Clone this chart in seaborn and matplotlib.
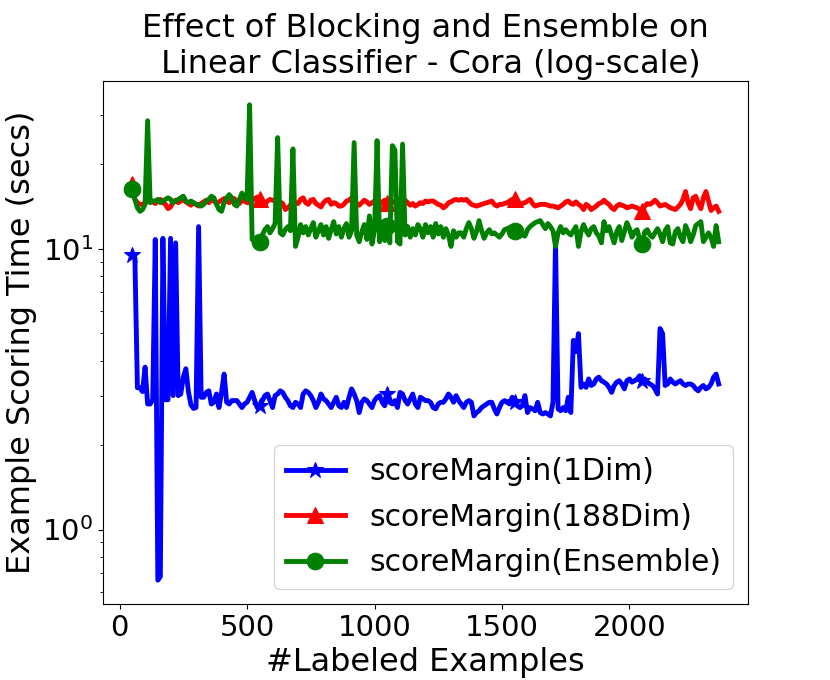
import matplotlib
matplotlib.use("Agg")
import matplotlib.pyplot as plt
import seaborn as sns
import numpy as np

# x values: number of labeled examples
labeled_examples = list(range(50, 2360, 10))

score_1dim = [
    9.5, 9.3, 3.2, 3.2, 3.1, 3.79, 2.8, 2.8, 2.9, 10.8,
    0.66, 0.68, 10.9, 2.9, 2.9, 10.9, 3.0, 10.5, 3.0, 3.04,
    3.49, 3.74, 3.1, 2.78, 2.7, 2.72, 12.0, 2.96, 2.96, 3.08,
    3.12, 2.8, 2.84, 3.04, 2.72, 3.08, 3.58, 2.84, 2.8, 2.88,
    2.88, 2.88, 2.8, 2.72, 2.8, 2.84, 2.96, 3.08, 2.88, 2.72,
    2.76, 2.88, 3.0, 3.04, 2.88, 2.72, 3.0, 3.04, 3.12, 3.08,
    2.96, 2.88, 2.76, 2.72, 2.84, 2.8, 2.72, 3.04, 3.12, 3.08,
    3.0, 2.88, 2.72, 2.84, 3.04, 2.92, 2.88, 2.8, 2.72, 2.84,
    2.96, 2.76, 2.72, 2.84, 2.72, 2.96, 3.17, 3.04, 2.88, 2.61,
    2.84, 2.92, 2.88, 2.8, 2.72, 2.88, 2.96, 3.0, 2.84, 2.76,
    3.04, 2.84, 2.8, 2.88, 2.72, 3.08, 3.04, 2.88, 2.8, 2.92,
    3.04, 2.8, 2.72, 2.96, 2.92, 2.88, 2.88, 2.84, 2.72, 2.69,
    2.8, 2.84, 2.84, 2.92, 3.04, 2.96, 2.84, 3.0, 2.88, 2.8,
    2.72, 2.84, 2.88, 2.84, 2.54, 2.61, 2.65, 2.72, 2.76, 2.8,
    2.84, 2.84, 2.69, 2.58, 2.72, 2.84, 2.88, 2.84, 2.8, 2.96,
    2.84, 2.76, 2.72, 2.76, 3.0, 2.61, 2.72, 2.69, 2.65, 2.84,
    2.61, 2.58, 2.61, 2.58, 2.54, 2.84, 10.6, 2.69, 2.65, 2.72,
    2.65, 2.96, 2.61, 4.72, 4.3, 4.99, 3.21, 3.3, 3.21, 3.44,
    3.26, 3.3, 3.44, 3.49, 3.39, 3.35, 3.3, 3.21, 3.08, 3.26,
    3.35, 3.39, 3.3, 3.17, 3.39, 3.44, 3.35, 3.39, 3.44, 3.53,
    3.39, 3.44, 3.35, 3.3, 3.26, 3.17, 3.04, 5.2, 4.99, 3.26,
    3.3, 3.44, 3.35, 3.3, 3.35, 3.39, 3.3, 3.26, 3.3, 3.3,
    3.26, 3.17, 3.12, 3.21, 3.26, 3.17, 3.21, 3.3, 3.49, 3.58,
    3.3,
]

score_188dim = [
    17.0, 15.0, 14.6, 14.4, 14.4, 14.6, 14.8, 14.9, 14.7, 14.5,
    14.8, 15.0, 14.6, 14.4, 13.9, 14.1, 14.7, 14.9, 14.6, 14.8,
    15.0, 14.7, 14.5, 14.3, 14.6, 14.4, 14.2, 14.5, 14.7, 14.9,
    14.6, 15.0, 14.8, 14.6, 14.7, 14.9, 15.1, 14.8, 14.6, 14.9,
    15.1, 14.7, 14.5, 14.9, 14.8, 14.6, 14.6, 14.9, 15.1, 15.3,
    15.0, 14.6, 14.4, 14.8, 15.0, 14.9, 14.8, 14.6, 14.7, 14.5,
    13.8, 14.0, 14.3, 14.7, 14.6, 14.5, 15.0, 15.2, 14.6, 14.4,
    14.9, 15.0, 14.5, 14.3, 14.1, 14.6, 14.9, 15.0, 14.4, 14.6,
    14.5, 14.2, 14.2, 14.4, 14.8, 14.9, 15.2, 15.0, 14.5, 14.3,
    14.6, 14.9, 14.7, 14.4, 14.6, 14.8, 14.5, 14.4, 14.7, 14.9,
    14.6, 14.3, 14.6, 14.8, 14.5, 14.4, 14.7, 14.9, 14.6, 14.3,
    14.5, 14.2, 14.4, 14.6, 14.5, 14.8, 14.7, 14.8, 14.8, 14.6,
    14.4, 14.3, 14.0, 14.2, 14.6, 14.7, 14.9, 15.0, 14.9, 15.0,
    14.9, 15.0, 14.7, 14.4, 14.3, 14.2, 14.3, 14.4, 14.5, 14.6,
    14.7, 14.8, 14.4, 14.2, 14.4, 14.4, 14.5, 14.6, 14.8, 15.0,
    15.1, 14.6, 14.4, 14.5, 14.6, 14.8, 15.0, 14.5, 14.2, 14.3,
    14.4, 14.4, 14.4, 14.3, 14.2, 14.2, 14.1, 14.0, 14.2, 14.4,
    14.7, 14.8, 14.5, 14.4, 14.7, 14.4, 14.2, 13.8, 14.4, 14.2,
    13.8, 14.0, 14.2, 14.5, 14.6, 14.9, 14.6, 14.4, 14.0, 13.8,
    14.2, 14.4, 14.3, 14.2, 14.0, 14.1, 14.2, 14.1, 14.0, 13.8,
    13.6, 14.2, 14.5, 14.4, 14.6, 14.9, 14.6, 14.2, 14.3, 14.4,
    14.2, 14.0, 13.9, 13.8, 14.1, 14.4, 15.0, 16.0, 14.6, 13.9,
    15.2, 15.4, 14.5, 13.9, 15.2, 16.0, 14.8, 13.7, 14.0, 14.2,
    13.6,
]

score_ensemble = [
    16.3, 15.0, 14.0, 13.6, 13.8, 14.4, 28.6, 14.6, 14.8, 14.8,
    15.0, 14.6, 14.8, 15.0, 15.2, 15.0, 14.6, 14.8, 15.0, 15.2,
    15.4, 14.8, 14.6, 14.8, 14.6, 14.4, 14.4, 14.2, 14.4, 14.8,
    15.0, 15.4, 15.2, 14.4, 13.8, 13.6, 14.6, 15.2, 15.6, 15.2,
    14.4, 14.2, 15.0, 15.8, 15.2, 15.0, 32.6, 10.8, 10.6, 10.5,
    10.6, 11.2, 11.7, 12.0, 11.4, 11.8, 12.3, 24.9, 11.4, 11.2,
    11.7, 12.0, 11.6, 22.7, 10.2, 11.0, 12.2, 11.4, 12.0, 11.2,
    11.8, 12.4, 11.0, 11.6, 12.2, 11.2, 12.0, 10.9, 11.7, 12.5,
    11.3, 12.0, 11.0, 11.8, 12.3, 11.0, 11.6, 23.9, 11.2, 10.6,
    11.5, 12.2, 10.8, 13.1, 10.4, 11.6, 24.3, 10.6, 11.8, 10.7,
    12.1, 10.5, 23.3, 22.5, 10.6, 10.4, 23.6, 11.2, 12.0, 11.0,
    11.8, 11.2, 12.2, 11.8, 11.0, 12.2, 11.4, 12.0, 11.0, 12.3,
    11.3, 12.0, 11.0, 11.8, 11.2, 10.2, 11.6, 11.0, 11.4, 11.4,
    11.0, 11.8, 12.4, 11.8, 10.9, 11.5, 12.6, 11.6, 10.9, 11.4,
    11.7, 11.3, 11.4, 11.2, 11.0, 11.3, 11.7, 11.8, 11.9, 11.7,
    11.6, 11.5, 11.4, 11.2, 11.1, 11.7, 12.0, 12.2, 12.4, 12.5,
    12.6, 12.2, 11.8, 12.3, 12.0, 11.6, 10.2, 11.4, 12.0, 11.4,
    11.7, 11.4, 11.2, 11.6, 12.0, 10.2, 11.5, 12.2, 11.6, 11.2,
    11.8, 12.0, 11.4, 11.1, 10.5, 12.5, 11.6, 12.0, 11.2, 10.5,
    11.5, 12.0, 10.7, 11.5, 12.4, 11.8, 11.0, 11.5, 11.7, 10.8,
    10.4, 11.5, 11.7, 11.2, 11.0, 11.4, 11.8, 11.3, 10.6, 11.6,
    12.0, 10.5, 10.4, 11.5, 11.8, 11.0, 10.6, 12.1, 11.5, 10.6,
    11.2, 12.1, 12.3, 12.5, 10.6, 11.0, 11.4, 11.0, 10.2, 12.1,
    10.6,
]

series_labels = ["scoreMargin(1Dim)", "scoreMargin(188Dim)", "scoreMargin(Ensemble)"]
series_colors = ["blue", "red", "green"]
series_markers = ["*", "^", "o"]

fig = plt.figure(figsize=(8.3, 6.8), dpi=100)
ax = fig.add_axes([0.1241, 0.1118, 0.9012 - 0.1241, 0.8809 - 0.1118])

for vals, lab, col, mk in zip([score_1dim, score_188dim, score_ensemble],
                              series_labels, series_colors, series_markers):
    sns.lineplot(x=labeled_examples, y=vals, ax=ax, color=col, marker=mk,
                 markersize=12, markevery=50, linewidth=3.5, label=lab,
                 markeredgecolor=col)

ax.set_yscale("log")
ax.set_title("Effect of Blocking and Ensemble on\n Linear Classifier - Cora (log-scale)",
             fontsize=23)
ax.set_xlabel("#Labeled Examples", fontsize=23)
ax.set_ylabel("Example Scoring Time (secs)", fontsize=23)
ax.tick_params(axis="both", which="major", labelsize=21)
ax.legend(loc="lower right", fontsize=21.5, labelspacing=0.55)

fig.savefig("out.png", dpi=100)
